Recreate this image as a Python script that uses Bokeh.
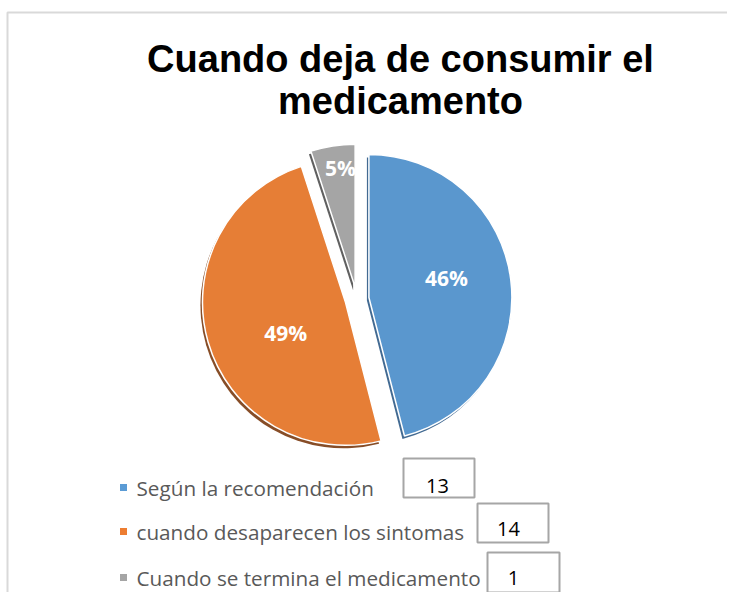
import numpy as np
from bokeh.plotting import figure
from bokeh.models import Range1d
from bokeh.embed import file_html
from bokeh.resources import INLINE
from bokeh.core.properties import value

# ---------------- data ----------------
title_lines = ["Cuando deja de consumir el", "medicamento"]
categories = ["Según la recomendación", "cuando desaparecen los sintomas", "Cuando se termina el medicamento"]
percents = [46, 49, 5]          # pie slice shares as labelled
box_values = [13, 14, 1]        # numbers written in the boxes
colors = ["#5A97CE", "#E67E36", "#A5A5A5"]
legend_colors = ["#5B9BD5", "#ED7D31", "#A5A5A5"]
shadow_colors = ["#2D5A86", "#7A3A10", "#4F4F4F"]

# ---------------- layout (screen px; data y = -screen y) ----------------
W, H = 727, 592
p = figure(width=W, height=H, x_range=Range1d(0, W), y_range=Range1d(-H, 0),
           output_backend="svg", toolbar_location=None, min_border=0)
p.axis.visible = False
p.grid.visible = False
p.outline_line_color = None
p.background_fill_color = "white"

# chart frame (left and top edges visible)
p.line([7, 7, 740], [-608, -12, -12], line_color="#D9D9D9", line_width=2)

# title
p.text(x=[400, 400], y=[-58, -100], text=title_lines, text_align="center", text_baseline="middle",
       text_font=value("Liberation Sans"), text_font_style="bold", text_font_size="38px", text_color="black")

# pie geometry
cx, cy, r, explode = 356.5, -298.5, 143.0, 12.0
vals = np.array(percents, dtype=float)
frac = vals / vals.sum()
ends = np.cumsum(frac) * 360.0
starts = ends - frac * 360.0          # clockwise from 12 o'clock, degrees
mids = (starts + ends) / 2.0
vx = cx + explode * np.sin(np.radians(mids))
vy = cy + explode * np.cos(np.radians(mids))
start_a = np.radians(90.0 - ends)
end_a = np.radians(90.0 - starts)

# shadows
p.wedge(x=vx - 2, y=vy - 3, radius=r, start_angle=start_a, end_angle=end_a,
        fill_color=shadow_colors, line_color=None, fill_alpha=0.9)
# slices
p.wedge(x=vx, y=vy, radius=r, start_angle=start_a, end_angle=end_a,
        fill_color=colors, line_color="white", line_width=1.5)

# slice labels
label_r = np.array([0.56, 0.47, 0.84])
label_shift = np.array([-7.0, -11.0, 2.0])
la = np.radians(mids + label_shift)
lx = vx + label_r * r * np.sin(la)
ly = vy + label_r * r * np.cos(la)
p.text(x=lx, y=ly, text=[f"{v}%" for v in percents], text_align="center", text_baseline="middle",
       text_font=value("Open Sans"), text_font_style="bold", text_font_size="21px", text_color="white")

# legend
leg_y = np.array([-487, -531, -577])
p.scatter(x=[123] * 3, y=leg_y, marker="square", size=7, fill_color=legend_colors, line_color=None)
p.text(x=[136] * 3, y=leg_y, text=categories, text_align="left", text_baseline="middle",
       text_font=value("Open Sans"), text_font_size="20.7px", text_color="#595959")

# value boxes
bx = [438.5, 512.5, 523.0]
by = [-477.5, -522.5, -572.0]
p.rect(x=bx, y=by, width=[71, 71, 72], height=[39, 39, 40], fill_color="white",
       line_color="#A6A6A6", line_width=2)
p.text(x=[437, 508, 513], y=[-485, -528, -577], text=[str(v) for v in box_values],
       text_align="center", text_baseline="middle", text_font=value("Open Sans"),
       text_font_size="20px", text_color="black")

open("out.html", "w").write(file_html(p, INLINE))
